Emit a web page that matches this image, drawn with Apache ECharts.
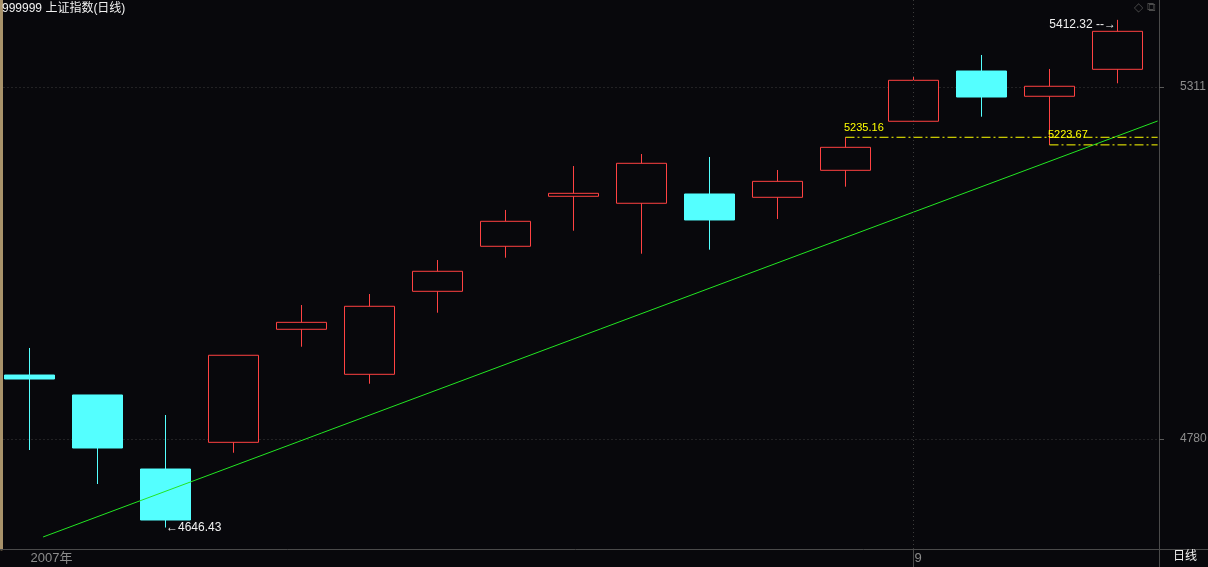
<!DOCTYPE html>
<html>
<head>
<meta charset="utf-8">
<script src="https://cdn.jsdelivr.net/npm/echarts@6/dist/echarts.min.js"></script>
<style>
html,body{margin:0;padding:0;background:#08080c;}
#chart{width:1208px;height:567px;}
</style>
</head>
<body>
<div id="chart"></div>
<script>
// ---- data ----
const dates = ['2007-08-15','2007-08-16','2007-08-17','2007-08-20','2007-08-21','2007-08-22','2007-08-23','2007-08-24','2007-08-27','2007-08-28','2007-08-29','2007-08-30','2007-08-31','2007-09-03','2007-09-04','2007-09-05','2007-09-06'];
const xTickLabels = ['2007年','','','','','','','','','','','','','9','','',''];
const opens  = [4876.5,4846.4,4734.7,4775.0,4945.5,4877.6,5002.8,5070.7,5146.1,5135.6,5149.6,5144.6,5185.3,5259.3,5335.1,5297.0,5337.7];
const closes = [4870.5,4766.4,4657.8,4906.3,4956.0,4980.2,5033.0,5108.4,5150.6,5195.9,5110.4,5168.7,5220.0,5321.1,5295.9,5312.1,5395.0];
const lows   = [4763.4,4712.1,4646.43,4759.3,4919.2,4863.4,4970.5,5053.5,5094.2,5059.5,5065.6,5111.9,5160.6,5259.3,5266.2,5223.67,5316.6];
const highs  = [4917.3,4846.4,4816.2,4906.3,4982.1,4998.7,5050.0,5125.5,5191.8,5209.9,5205.4,5185.8,5235.16,5327.6,5359.3,5338.2,5412.32];
const yTickValues = [4780, 5311];
const yMin = 4614.06, yMax = 5442.24;
// trend line (x in candle index units)
const trendX = [0.2, 16.59];
const trendY = [4632.2, 5259.7];
// horizontal dash-dot reference lines
const levelValues = [5235.16, 5223.67];
const levelStartIdx = [12, 15];
const levelEndX = 16.59;

// ---- build ----
const candleData = dates.map((d, i) => [opens[i], closes[i], lows[i], highs[i]]);
const hiIdx = highs.indexOf(Math.max(...highs));
const loIdx = lows.indexOf(Math.min(...lows));

const RED = '#ff4242', CYAN = '#54ffff', YEL = '#ffff00';
const FONT = 'Liberation Sans, Arial, Noto Sans CJK SC, sans-serif';
const BAND = 68, GRID_LEFT = -4.5, AXIS_X = 1159;
const gridRight0 = 1208 - (GRID_LEFT + BAND * dates.length);   // candle grid
const overlayMax = -0.5 + (AXIS_X - GRID_LEFT) / BAND;           // overlay grid reaches the price axis

const chart = echarts.init(document.getElementById('chart'));
const levelSeries = levelValues.map((v, k) => ({
  type: 'line',
  xAxisIndex: 2, yAxisIndex: 2,
  data: [[levelStartIdx[k], v], [levelEndX, v]],
  symbol: 'none', silent: true, animation: false,
  lineStyle: { color: YEL, width: 1, type: [9, 3, 2, 3] }
}));

chart.setOption({
  backgroundColor: '#08080c',
  animation: false,
  title: [
    { text: '999999 上证指数(日线)', left: 0, top: 1, padding: [2, 2],
      textStyle: { color: '#f0f0f0', fontSize: 12, fontWeight: 'normal', fontFamily: FONT } },
    { text: '◇ ⧉', right: 50, top: 0, padding: [2, 2],
      textStyle: { color: '#4a4a4a', fontSize: 12, fontWeight: 'normal', fontFamily: 'DejaVu Sans' } },
    { text: '日线', left: 1171, top: 549, padding: [2, 2],
      textStyle: { color: '#f0f0f0', fontSize: 12, fontWeight: 'normal', fontFamily: FONT } }
  ],
  grid: [
    { left: GRID_LEFT, top: 0, right: gridRight0, bottom: 18, containLabel: false, outerBoundsMode: 'none' },
    { left: GRID_LEFT, top: 0, right: 1208 - AXIS_X, bottom: 18, containLabel: false, outerBoundsMode: 'none' }
  ],
  xAxis: [
    {
      type: 'category', gridIndex: 0, data: dates, boundaryGap: true,
      axisLine: { show: true, onZero: false, lineStyle: { color: '#4a4a4a', width: 1 } },
      axisTick: { show: true, alignWithLabel: true, length: 18, inside: false,
        interval: (i) => i > 0 && xTickLabels[i] !== '', lineStyle: { color: '#4a4a4a' } },
      axisLabel: { show: true, interval: 0, formatter: (v, i) => xTickLabels[i], align: 'left',
        margin: 3, padding: [0, 0, 0, 1], color: '#8c8c8c', fontSize: 13, fontFamily: FONT, hideOverlap: false },
      splitLine: { show: false }
    },
    { type: 'value', gridIndex: 1, show: false, min: -0.5, max: overlayMax },
    { type: 'value', gridIndex: 1, show: false, min: -0.5, max: overlayMax }
  ],
  yAxis: [
    {
      type: 'value', gridIndex: 1, position: 'right', min: yMin, max: yMax,
      axisLine: { show: true, onZero: false, lineStyle: { color: '#4a4a4a', width: 1 } },
      axisTick: { show: true, inside: false, length: 5, customValues: yTickValues, lineStyle: { color: '#5a5a5a' } },
      axisLabel: { show: true, customValues: yTickValues, formatter: (v) => String(v), margin: 21,
        color: '#8c8c8c', fontSize: 12, fontFamily: FONT },
      splitLine: { show: true, lineStyle: { color: '#3c3c3c', type: [1, 3], width: 1 } }
    },
    {
      type: 'value', gridIndex: 0, show: false, min: yMin, max: yMax
    },
    {
      type: 'value', gridIndex: 1, show: false, min: yMin, max: yMax
    },
    {
      type: 'value', gridIndex: 1, position: 'left', offset: -5.5, min: 0, max: 1,
      axisLine: { show: true, onZero: false, lineStyle: { color: '#a8926a', width: 3 } },
      axisTick: { show: false }, axisLabel: { show: false }, splitLine: { show: false }
    }
  ],
  graphic: [
    { type: 'line', shape: { x1: 1150, y1: 549.5, x2: 1208, y2: 549.5 }, style: { stroke: '#4a4a4a', lineWidth: 1 }, silent: true },
    { type: 'line', shape: { x1: 1159.5, y1: 549, x2: 1159.5, y2: 567 }, style: { stroke: '#4a4a4a', lineWidth: 1 }, silent: true }
  ],
  series: [
    {
      type: 'candlestick', xAxisIndex: 0, yAxisIndex: 1,
      data: candleData,
      barWidth: 50,
      itemStyle: { color: '#08080c', color0: CYAN, borderColor: RED, borderColor0: CYAN, borderWidth: 1 },
      markLine: {
        silent: true, symbol: 'none', animation: false,
        label: { show: false },
        lineStyle: { color: '#3c3c3c', type: [1, 3], width: 1 },
        data: [{ xAxis: dates[xTickLabels.indexOf('9')] }]
      },
      markPoint: {
        silent: true, animation: false, symbol: 'circle', symbolSize: 1,
        itemStyle: { color: 'rgba(0,0,0,0)' },
        data: [
          { coord: [dates[hiIdx], highs[hiIdx]],
            label: { show: true, position: 'left', distance: 1, offset: [0, 5], formatter: highs[hiIdx].toFixed(2) + ' ‐‐→',
              color: '#f0f0f0', fontSize: 12, fontFamily: FONT } },
          { coord: [dates[loIdx], lows[loIdx]],
            label: { show: true, position: 'right', distance: 0, offset: [0, 0], formatter: '←' + lows[loIdx].toFixed(2),
              color: '#f0f0f0', fontSize: 12, fontFamily: FONT } },
          { coord: [dates[levelStartIdx[0]], levelValues[0]],
            label: { show: true, position: 'right', distance: 0, offset: [-2, -9], formatter: levelValues[0].toFixed(2),
              color: YEL, fontSize: 11, fontFamily: FONT } },
          { coord: [dates[levelStartIdx[1]], levelValues[1]],
            label: { show: true, position: 'right', distance: 0, offset: [-2, -10], formatter: levelValues[1].toFixed(2),
              color: YEL, fontSize: 11, fontFamily: FONT } }
        ]
      }
    },
    {
      type: 'line', xAxisIndex: 1, yAxisIndex: 2,
      data: trendX.map((x, i) => [x, trendY[i]]),
      symbol: 'none', silent: true,
      lineStyle: { color: '#22e622', width: 1 }
    },
    ...levelSeries
  ]
});
</script>
</body>
</html>
